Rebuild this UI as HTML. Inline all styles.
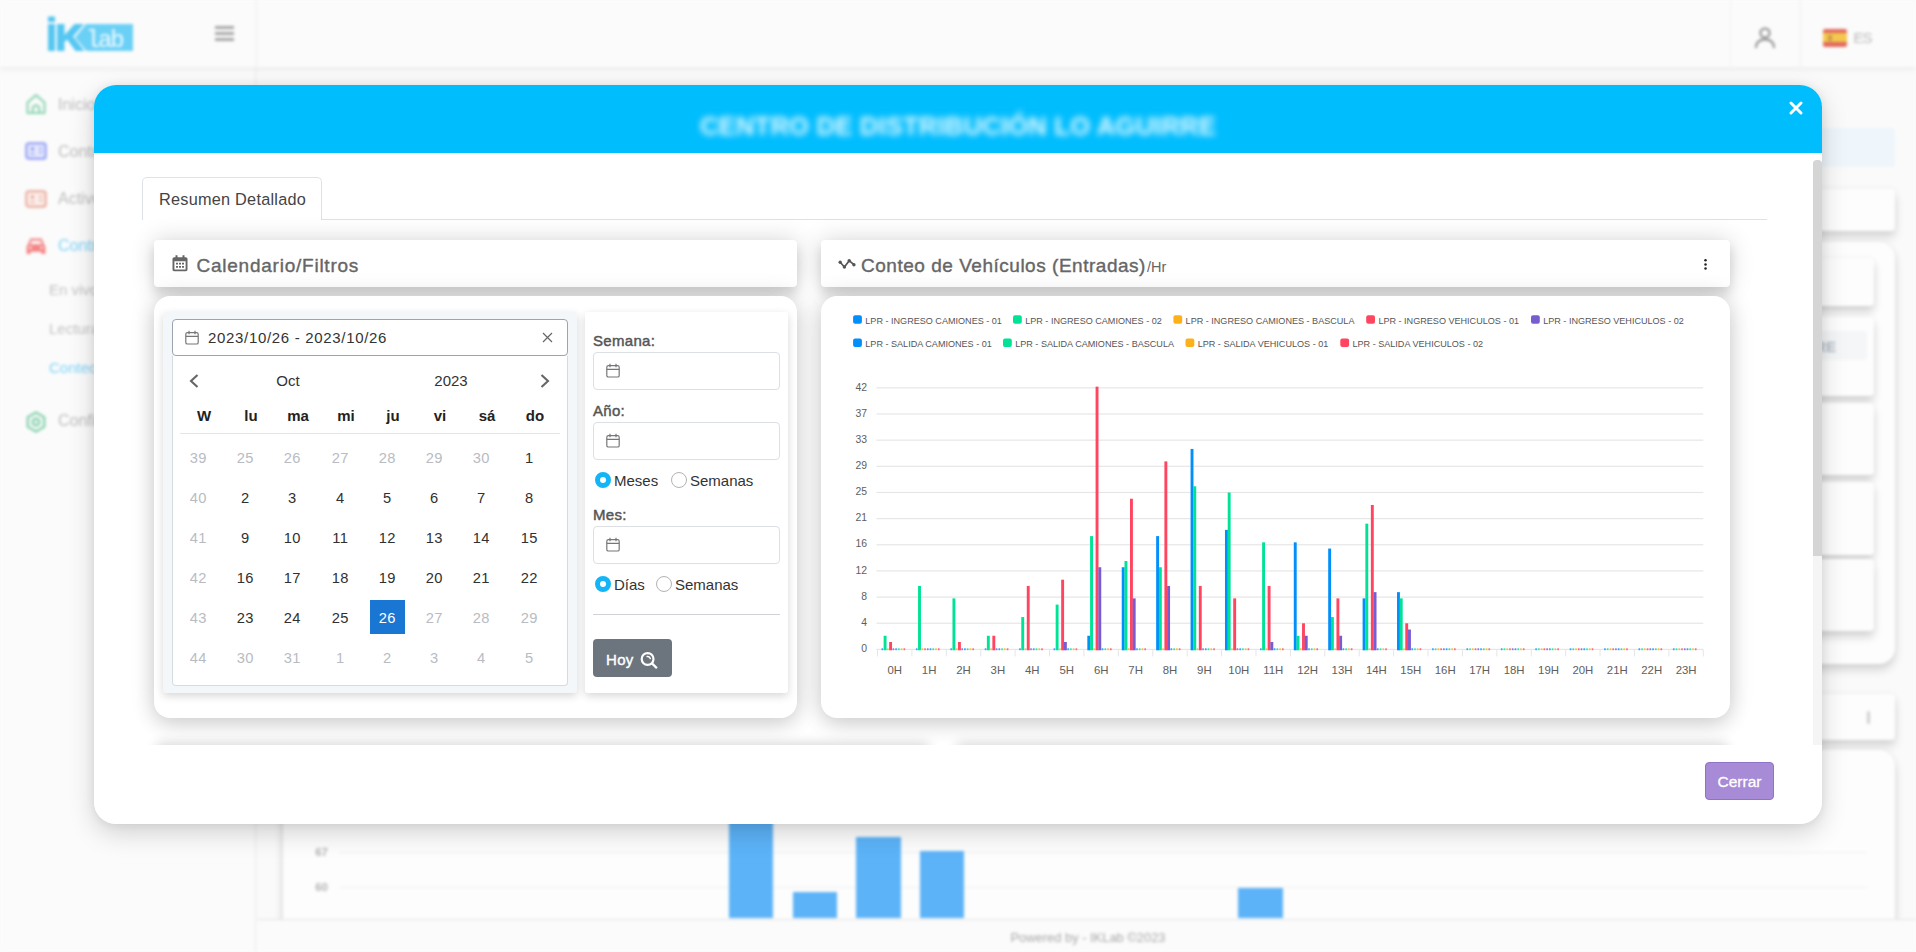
<!DOCTYPE html>
<html lang="es">
<head>
<meta charset="utf-8">
<title>IKLab - Conteo de Vehículos</title>
<style>
*{box-sizing:border-box;margin:0;padding:0}
html,body{width:1916px;height:952px;overflow:hidden}
body{font-family:"Liberation Sans","DejaVu Sans",sans-serif;background:#fafafa;color:#333;position:relative}
.abs{position:absolute}

/* ---------- blurred background app ---------- */
#bg{position:absolute;left:0;top:0;width:1916px;height:952px;filter:blur(1.5px);overflow:hidden;background:#fafafa}
#bg .side{position:absolute;left:0;top:0;width:256px;height:952px;background:#fbfbfb;border-right:1px solid #e9e9e9}
#bg .top{position:absolute;left:0;top:0;width:1916px;height:68px;background:#fbfbfb;border-bottom:1px solid #eee;box-shadow:0 2px 5px rgba(0,0,0,.05)}
#bg .mi{position:absolute;left:58px;font-size:16px;color:#bcbcbc;white-space:nowrap}
#bg .sub{position:absolute;left:49px;font-size:15px;color:#c2c2c2;white-space:nowrap}
#bg .card{position:absolute;background:#fdfdfd;border-radius:14px;box-shadow:0 6px 10px rgba(0,0,0,.15),0 0 6px rgba(0,0,0,.05)}
#bg .card.in{border-radius:4px;box-shadow:0 6px 8px rgba(0,0,0,.16),0 0 5px rgba(0,0,0,.05)}
#bg .bar{position:absolute;background:#5cb3f8}
#bg .gl{position:absolute;height:1px;background:#efefef}
#bg .foot{position:absolute;left:257px;top:919px;width:1659px;height:33px;background:#fbfbfb;border-top:1px solid #e2e2e2;text-align:center;font-size:12.9px;line-height:35px;color:#a8a8a8;padding-left:3px}

/* ---------- modal ---------- */
#modal{position:absolute;left:94px;top:85px;width:1728px;height:739px;background:#fff;border-radius:22px;box-shadow:0 9px 26px rgba(0,0,0,.17),0 0 10px rgba(0,0,0,.07);overflow:hidden}
#mhead{position:absolute;left:0;top:0;width:100%;height:68px;background:#00bdfe}
#mtitle{position:absolute;left:0;top:27px;width:1728px;text-align:center;font-size:25.6px;font-weight:bold;color:#eafaff;filter:blur(3.1px);letter-spacing:.2px;white-space:nowrap}
#mclose{position:absolute;left:1695px;top:16px;width:14px;height:14px}

#mc{position:absolute;left:-94px;top:-85px;width:1916px;height:952px}
#mc div,#mc span,#mc svg{position:absolute}
.tab{left:142px;top:177px;width:180px;height:43px;border:1px solid #dee2e6;border-bottom:none;border-radius:5px 5px 0 0;background:#fff}
.tabline{left:142px;top:219px;width:1625px;height:1px;background:#dee2e6}
.tabtxt{left:159px;top:189.5px;font-size:16.3px;color:#444;white-space:nowrap;letter-spacing:.24px}
.chead{top:240px;height:47px;background:#fff;border-radius:4px;box-shadow:0 7px 11px rgba(0,0,0,.12),0 0 24px rgba(0,0,0,.16)}
.cbody{top:296px;height:422px;background:#fff;border-radius:16px;box-shadow:0 8px 20px rgba(0,0,0,.10),0 0 24px rgba(0,0,0,.15)}
.ctitle{font-size:19px;font-weight:normal;-webkit-text-stroke:.38px #666;color:#666;white-space:nowrap;letter-spacing:.76px}
.calpanel{left:163px;top:312px;width:414px;height:381px;background:#f4f7fa;border-radius:3px;box-shadow:0 3px 8px rgba(0,0,0,.16)}
.dinput{left:172px;top:319px;width:396px;height:37px;border:1px solid #9aa5b1;border-radius:4px;background:#fff}
.dtxt{left:208px;top:328.7px;font-size:15px;color:#333;white-space:nowrap;letter-spacing:.68px}
.cal{left:172px;top:356px;width:396px;height:330px;border:1px solid #d5dbe2;border-top:none;border-radius:0 0 4px 4px;background:#fff}
.calhd{font-size:15px;color:#333;text-align:center;width:60px}
.wd{font-size:15px;font-weight:bold;color:#222;text-align:center;width:40px;top:407px}
.d{font-size:14.7px;letter-spacing:.4px;text-indent:.4px;color:#303030;text-align:center;width:40px}
.d.o{color:#b8bcc2}
.calsep{left:180px;top:433px;width:380px;height:1px;background:#e4e6e8}
.sel{left:370px;top:599.5px;width:35px;height:34.5px;background:#1976d2}
.fpanel{left:585px;top:312px;width:203px;height:381px;background:#fff;border-radius:3px;box-shadow:0 3px 8px rgba(0,0,0,.16)}
.flabel{left:593px;font-size:15px;font-weight:normal;-webkit-text-stroke:.45px #555;color:#555;white-space:nowrap;letter-spacing:.3px}
.finput{left:593px;width:187px;height:38px;border:1px solid #dcdfe3;border-radius:4px;background:#fff}
.rlab{font-size:15px;color:#333;white-space:nowrap;margin-top:.8px}
.ron{width:16px;height:16px;border-radius:50%;border:5px solid #12b5f5;background:#fff;margin-left:1px}
.roff{width:16px;height:16px;border-radius:50%;border:1px solid #b3b3b3;background:#fff}
.fsep{left:593px;top:614px;width:187px;height:1px;background:#d0d2d5}
.hoy{left:593px;top:639px;width:79px;height:38px;border-radius:4px;background:#6c757d}
.hoytxt{left:606px;top:651px;font-size:15px;color:#fff;font-weight:normal;-webkit-text-stroke:.4px #fff;white-space:nowrap;letter-spacing:.3px}
.sbtrack{left:1813px;top:161px;width:9px;height:585px;background:#f5f5f5}
.sbthumb{left:1813px;top:160px;width:9px;height:396px;background:#d5d5d5;border-radius:4px 4px 0 0}
.mfoot{left:94px;top:745px;width:1728px;height:79px;background:#fff}
.cerrar{left:1705px;top:762px;width:69px;height:38px;border-radius:4px;background:#a78bd6;border:1px solid #8f73c6}
.cerrartxt{left:1717.500px;top:773px;font-size:15.5px;color:#fff;-webkit-text-stroke:.3px #fff;white-space:nowrap}
</style>
</head>
<body>

<div id="bg">
  <!-- right side page content (behind modal) -->
  <div class="abs" style="left:283px;top:128px;width:1612px;height:39px;background:#eef5fb;border-radius:4px"></div>
  <div class="card" style="left:283px;top:189px;width:1612px;height:42px;border-radius:4px"></div>
  <div class="card" style="left:283px;top:242px;width:1612px;height:422px;border-radius:16px"></div>
  <div class="card in" style="left:1500px;top:258px;width:374px;height:48px"></div>
  <div class="card in" style="left:1500px;top:317px;width:374px;height:79px"></div>
  <div class="abs" style="left:1500px;top:331px;width:367px;height:29px;background:#f4f6f8;border-radius:3px"></div>
  <div class="abs" style="left:1700px;top:338px;font-size:15px;font-weight:bold;color:#b4bcc7;white-space:nowrap;width:136px;text-align:right">LO AGUIRRE</div>
  <div class="card in" style="left:1500px;top:403px;width:374px;height:72px"></div>
  <div class="card in" style="left:1500px;top:482px;width:374px;height:73px"></div>
  <div class="card in" style="left:1500px;top:559px;width:374px;height:72px"></div>
  <div class="card" style="left:283px;top:694px;width:1612px;height:46px;border-radius:4px"></div>
  <div class="abs" style="left:1867px;top:711px;width:3px;height:13px;background:#cfcfcf;border-radius:2px"></div>
  <div class="card" style="left:283px;top:750px;width:1612px;height:200px;border-radius:16px 16px 0 0"></div>
  <!-- bottom chart -->
  <div class="gl" style="left:339px;top:852px;width:1528px"></div>
  <div class="gl" style="left:339px;top:887px;width:1528px"></div>
  <div class="abs" style="left:312px;top:846px;font-size:11.500px;font-weight:bold;color:#b3b3b3;width:16px;text-align:right">67</div>
  <div class="abs" style="left:312px;top:881px;font-size:11.500px;font-weight:bold;color:#b3b3b3;width:16px;text-align:right">60</div>
  <div class="bar" style="left:729px;top:800px;width:44px;height:118px"></div>
  <div class="bar" style="left:793px;top:892px;width:44px;height:26px"></div>
  <div class="bar" style="left:856px;top:837px;width:45px;height:81px"></div>
  <div class="bar" style="left:920px;top:851px;width:44px;height:67px"></div>
  <div class="bar" style="left:1238px;top:888px;width:45px;height:30px"></div>
  <div class="foot">Powered by - IKLab ©2023</div>
  <!-- sidebar & topbar -->
  <div class="side"></div>
  <div class="top"></div>
  <svg class="abs" style="left:46px;top:15px" width="88" height="38" viewBox="0 0 88 38">
    <path d="M2 9h7v27H2zM2 1.5h7v5.5H2z" fill="#55c7f2"/>
    <path d="M11 9h7.5v11L28.5 9H38L27 21.5 38.5 36H29.5L21 24.5 18.500 27V36H11z" fill="#55c7f2"/>
    <path d="M40 9H87V36H40.500L29 22.500z" fill="#6bd0f6"/>
    <text x="40" y="31.500" font-family="'Liberation Mono',monospace" font-size="24" fill="#f4fbff" letter-spacing="-2.300">lab</text>
  </svg>
  <div class="abs" style="left:215px;top:26px;width:19px;height:3px;background:#a6a6a6"></div>
  <div class="abs" style="left:215px;top:32px;width:19px;height:3px;background:#a6a6a6"></div>
  <div class="abs" style="left:215px;top:38px;width:19px;height:3px;background:#a6a6a6"></div>
  <div class="abs" style="left:1800px;top:0;width:1px;height:68px;background:#ececec"></div>
  <div class="abs" style="left:256px;top:0;width:1px;height:68px;background:#ececec"></div>
  <div class="abs" style="left:1730px;top:0;width:1px;height:68px;background:#f0f0f0"></div>
  <svg class="abs" style="left:1754px;top:26px" width="22" height="23" viewBox="0 0 22 23" fill="none" stroke="#8c8c8c" stroke-width="2"><circle cx="11" cy="7" r="4.6"/><path d="M2 22c0-6 4-8.500 9-8.500s9 2.500 9 8.500"/></svg>
  <div class="abs" style="left:1823px;top:28.500px;width:24px;height:18px;background:#e2695f;border-radius:2px"></div>
  <div class="abs" style="left:1823px;top:33px;width:24px;height:9px;background:#f4c84f"></div>
  <div class="abs" style="left:1828px;top:34.500px;width:4px;height:6px;background:#c79a4a;border-radius:1px"></div>
  <div class="abs" style="left:1853.500px;top:28.500px;font-size:15px;letter-spacing:-1px;color:#b9b9b9">ES</div>

  <svg class="abs" style="left:25px;top:93px" width="22" height="22" viewBox="0 0 22 22" fill="none" stroke="#8fd5b4" stroke-width="2.2" stroke-linejoin="round"><path d="M2.500 9.500L11 2.200l8.500 7.300V20H2.500z"/><path d="M7.800 20v-4.500a3.200 3.200 0 0 1 6.400 0V20"/></svg>
  <svg class="abs" style="left:25px;top:142px" width="22" height="18" viewBox="0 0 22 18" fill="none" stroke="#929df4" stroke-width="2.2"><rect x="1.400" y="1.400" width="19.200" height="15.200" rx="2.400" fill="#e8ebfd"/><circle cx="7.500" cy="7" r="1.900" fill="#929df4" stroke="none"/><path d="M4.500 12.500c.500-2 5.500-2 6 0z" fill="#929df4" stroke="none"/><path d="M13.500 6.500h4M13.500 10.500h4" stroke-width="1.600"/></svg>
  <svg class="abs" style="left:25px;top:190px" width="22" height="18" viewBox="0 0 22 18" fill="none" stroke="#e9ab9c" stroke-width="2.2"><rect x="1.400" y="1.400" width="19.200" height="15.200" rx="2.400" fill="#fbf1ee"/><circle cx="7.500" cy="7" r="1.900" fill="#e9ab9c" stroke="none"/><path d="M4.500 12.500c.500-2 5.500-2 6 0z" fill="#e9ab9c" stroke="none"/><path d="M13.500 6.500h4M13.500 10.500h4" stroke-width="1.600"/></svg>
  <svg class="abs" style="left:26px;top:236px" width="20" height="20" viewBox="0 0 24 23"><path fill="#f58383" d="M5.200 2.500h13.600l3 7.500c.9.500 1.400 1.400 1.400 2.500v8.500h-4.700v-2.500H5.500V21H.8v-8.500c0-1.100.5-2 1.400-2.500zM6.800 5.200l-1.700 4.300h13.800l-1.700-4.300zM5.300 12a1.600 1.600 0 1 0 0 3.200 1.600 1.600 0 0 0 0-3.200zm13.400 0a1.600 1.600 0 1 0 0 3.200 1.600 1.600 0 0 0 0-3.200z"/></svg>
  <svg class="abs" style="left:25px;top:411px" width="22" height="22" viewBox="0 0 22 22" fill="none" stroke="#86d1ad" stroke-width="2.400" stroke-linejoin="round"><path d="M11 1.500l8.200 4.700v9.600L11 20.500l-8.200-4.700V6.200z"/><circle cx="11" cy="11" r="3.300"/></svg>
  <div class="mi" style="top:96px">Inicio</div>
  <div class="mi" style="top:143px">Control de Acceso</div>
  <div class="mi" style="top:190px">Activos</div>
  <div class="mi" style="top:237px;color:#7fd3f8">Control Vehicular</div>
  <div class="sub" style="top:281px">En vivo</div>
  <div class="sub" style="top:320px">Lecturas</div>
  <div class="sub" style="top:359px;color:#7fd3f8">Conteo</div>
  <div class="mi" style="top:412px">Configuración</div>
</div>


<div id="modal">
  <div id="mhead">
    <div id="mtitle">CENTRO DE DISTRIBUCIÓN LO AGUIRRE</div>
    <svg id="mclose" viewBox="0 0 14 14"><path d="M2 2 L12 12 M12 2 L2 12" stroke="#fff" stroke-width="2.9" stroke-linecap="round"/></svg>
  </div>

<div id="mc">
  <div class="tab"></div><div class="tabline"></div><div style="left:143px;top:219px;width:178px;height:2px;background:#fff"></div>
  <span class="tabtxt">Resumen Detallado</span>

  <div class="chead" style="left:154px;width:643px"></div>
  <div class="cbody" style="left:154px;width:643px"></div>
  <div class="chead" style="left:821px;width:909px"></div>
  <div class="cbody" style="left:821px;width:909px"></div>

  <svg style="left:172px;top:255px" width="16" height="17" viewBox="0 0 16 17"><path fill="#666" d="M3.5 0.3h2v2h5v-2h2v2h1.3c1 0 1.7.7 1.7 1.7v10.6c0 1-.7 1.7-1.7 1.7H2.2c-1 0-1.7-.7-1.7-1.7V4c0-1 .7-1.7 1.7-1.7h1.3zM2.4 6.2v8.2h11.2V6.2zM4 7.8h2v1.8H4zm3 0h2v1.8H7zm3 0h2v1.8h-2zM4 11h2v1.8H4zm3 0h2v1.8H7zm3 0h2v1.8h-2z"/></svg>
  <span class="ctitle" style="left:196.500px;top:254.600px">Calendario/Filtros</span>

  <svg style="left:838px;top:258px" width="18" height="12" viewBox="0 0 18 12" fill="none" stroke="#555" stroke-width="1.7" stroke-linecap="round" stroke-linejoin="round"><path d="M2.2 4.3 L6.4 9 L11.2 2.7 L15.9 6.7"/><g fill="#555" stroke="none"><circle cx="2.200" cy="4.300" r="1.700"/><circle cx="6.400" cy="9" r="1.700"/><circle cx="11.200" cy="2.700" r="1.700"/><circle cx="15.900" cy="6.700" r="1.700"/></g></svg>
  <span class="ctitle" style="left:861px;top:254.600px;letter-spacing:.52px">Conteo de Vehículos (Entradas)</span>
  <span style="left:1147px;top:259px;font-size:14.5px;color:#666;white-space:nowrap">/Hr</span>
  <svg style="left:1703px;top:257px" width="5" height="15" viewBox="0 0 5 15"><circle cx="2.5" cy="3.2" r="1.25" fill="#222"/><circle cx="2.5" cy="7.4" r="1.25" fill="#222"/><circle cx="2.5" cy="11.6" r="1.25" fill="#222"/></svg>

  <div class="calpanel"></div>
  <div class="cal"></div>
  <div class="dinput"></div>
  <svg style="left:185px;top:330px" width="14" height="15" viewBox="0 0 14 15" fill="none" stroke="#777" stroke-width="1.2"><rect x="0.8" y="2.6" width="12.4" height="11.4" rx="1.6"/><path d="M0.8 6.4H13.2M4 0.8V4.2M10 0.8V4.2"/></svg>
  <span class="dtxt">2023/10/26 - 2023/10/26</span>
  <svg style="left:542px;top:332px" width="11" height="11" viewBox="0 0 11 11"><path d="M1 1L10 10M10 1L1 10" stroke="#666" stroke-width="1.2"/></svg>
  <svg style="left:189px;top:374px" width="10" height="14" viewBox="0 0 10 14" fill="none" stroke="#666" stroke-width="2.1"><path d="M8.5 1L2 7L8.5 13"/></svg>
  <svg style="left:540px;top:374px" width="10" height="14" viewBox="0 0 10 14" fill="none" stroke="#666" stroke-width="2.1"><path d="M1.5 1L8 7L1.5 13"/></svg>
  <span class="calhd" style="left:258px;top:372px">Oct</span>
  <span class="calhd" style="left:421px;top:372px">2023</span>
  <span class="wd" style="left:184px">W</span><span class="wd" style="left:231px">lu</span><span class="wd" style="left:278px">ma</span><span class="wd" style="left:326px">mi</span><span class="wd" style="left:373px">ju</span><span class="wd" style="left:420px">vi</span><span class="wd" style="left:467px">sá</span><span class="wd" style="left:515px">do</span>
  <div class="calsep"></div>
  <div class="sel"></div>
  <span class="d o" style="left:178px;top:449.9px">39</span><span class="d o" style="left:225px;top:449.9px">25</span><span class="d o" style="left:272px;top:449.9px">26</span><span class="d o" style="left:320px;top:449.9px">27</span><span class="d o" style="left:367px;top:449.9px">28</span><span class="d o" style="left:414px;top:449.9px">29</span><span class="d o" style="left:461px;top:449.9px">30</span><span class="d" style="left:509px;top:449.9px">1</span>
<span class="d o" style="left:178px;top:489.9px">40</span><span class="d" style="left:225px;top:489.9px">2</span><span class="d" style="left:272px;top:489.9px">3</span><span class="d" style="left:320px;top:489.9px">4</span><span class="d" style="left:367px;top:489.9px">5</span><span class="d" style="left:414px;top:489.9px">6</span><span class="d" style="left:461px;top:489.9px">7</span><span class="d" style="left:509px;top:489.9px">8</span>
<span class="d o" style="left:178px;top:529.9px">41</span><span class="d" style="left:225px;top:529.9px">9</span><span class="d" style="left:272px;top:529.9px">10</span><span class="d" style="left:320px;top:529.9px">11</span><span class="d" style="left:367px;top:529.9px">12</span><span class="d" style="left:414px;top:529.9px">13</span><span class="d" style="left:461px;top:529.9px">14</span><span class="d" style="left:509px;top:529.9px">15</span>
<span class="d o" style="left:178px;top:569.9px">42</span><span class="d" style="left:225px;top:569.9px">16</span><span class="d" style="left:272px;top:569.9px">17</span><span class="d" style="left:320px;top:569.9px">18</span><span class="d" style="left:367px;top:569.9px">19</span><span class="d" style="left:414px;top:569.9px">20</span><span class="d" style="left:461px;top:569.9px">21</span><span class="d" style="left:509px;top:569.9px">22</span>
<span class="d o" style="left:178px;top:609.9px">43</span><span class="d" style="left:225px;top:609.9px">23</span><span class="d" style="left:272px;top:609.9px">24</span><span class="d" style="left:320px;top:609.9px">25</span><span class="d" style="left:367px;top:609.9px;color:#fff">26</span><span class="d o" style="left:414px;top:609.9px">27</span><span class="d o" style="left:461px;top:609.9px">28</span><span class="d o" style="left:509px;top:609.9px">29</span>
<span class="d o" style="left:178px;top:649.9px">44</span><span class="d o" style="left:225px;top:649.9px">30</span><span class="d o" style="left:272px;top:649.9px">31</span><span class="d o" style="left:320px;top:649.9px">1</span><span class="d o" style="left:367px;top:649.9px">2</span><span class="d o" style="left:414px;top:649.9px">3</span><span class="d o" style="left:461px;top:649.9px">4</span><span class="d o" style="left:509px;top:649.9px">5</span>

  <div class="fpanel"></div>
  <span class="flabel" style="top:332px">Semana:</span>
  <div class="finput" style="top:352px"></div><svg style="left:606px;top:363.2px" width="14" height="15" viewBox="0 0 14 15" fill="none" stroke="#777" stroke-width="1.2"><rect x="0.8" y="2.6" width="12.4" height="11.4" rx="1.6"/><path d="M0.8 6.4H13.2M4 0.8V4.2M10 0.8V4.2"/></svg>
  <span class="flabel" style="top:402px">Año:</span>
  <div class="finput" style="top:422px"></div><svg style="left:606px;top:433.2px" width="14" height="15" viewBox="0 0 14 15" fill="none" stroke="#777" stroke-width="1.2"><rect x="0.8" y="2.6" width="12.4" height="11.4" rx="1.6"/><path d="M0.8 6.4H13.2M4 0.8V4.2M10 0.8V4.2"/></svg>
  <div class="ron" style="left:594px;top:472px"></div><span class="rlab" style="left:614px;top:471px">Meses</span>
  <div class="roff" style="left:671px;top:472px"></div><span class="rlab" style="left:690px;top:471px">Semanas</span>
  <span class="flabel" style="top:506px">Mes:</span>
  <div class="finput" style="top:526px"></div><svg style="left:606px;top:537.2px" width="14" height="15" viewBox="0 0 14 15" fill="none" stroke="#777" stroke-width="1.2"><rect x="0.8" y="2.6" width="12.4" height="11.4" rx="1.6"/><path d="M0.8 6.4H13.2M4 0.8V4.2M10 0.8V4.2"/></svg>
  <div class="ron" style="left:594px;top:576px"></div><span class="rlab" style="left:614px;top:575px">Días</span>
  <div class="roff" style="left:656px;top:576px"></div><span class="rlab" style="left:675px;top:575px">Semanas</span>
  <div class="fsep"></div>
  <div class="hoy"></div><span class="hoytxt">Hoy</span>
  <svg style="left:639px;top:650px" width="19" height="19" viewBox="0 0 19 19" fill="none" stroke="#fff" stroke-width="2.2" stroke-linecap="round"><circle cx="8.6" cy="9" r="5.9"/><path d="M13 13.4L17.3 17.6"/><path d="M8.2 6.6 Q10.6 6.2 11.3 8.6" stroke-width="1.5"/></svg>

  <!--CHART-->
<svg style="left:0;top:0" width="1916" height="952" viewBox="0 0 1916 952" font-family="'Liberation Sans',Arial,sans-serif">
<rect x="876.5" y="387.25" width="826.8" height="1.2" fill="#e6e6e6"/>
<text x="867" y="390.5" font-size="10.4" fill="#5e5e5e" text-anchor="end">42</text>
<rect x="876.5" y="413.40" width="826.8" height="1.2" fill="#e6e6e6"/>
<text x="867" y="416.6" font-size="10.4" fill="#5e5e5e" text-anchor="end">37</text>
<rect x="876.5" y="439.56" width="826.8" height="1.2" fill="#e6e6e6"/>
<text x="867" y="442.8" font-size="10.4" fill="#5e5e5e" text-anchor="end">33</text>
<rect x="876.5" y="465.71" width="826.8" height="1.2" fill="#e6e6e6"/>
<text x="867" y="468.9" font-size="10.4" fill="#5e5e5e" text-anchor="end">29</text>
<rect x="876.5" y="491.87" width="826.8" height="1.2" fill="#e6e6e6"/>
<text x="867" y="495.1" font-size="10.4" fill="#5e5e5e" text-anchor="end">25</text>
<rect x="876.5" y="518.02" width="826.8" height="1.2" fill="#e6e6e6"/>
<text x="867" y="521.2" font-size="10.4" fill="#5e5e5e" text-anchor="end">21</text>
<rect x="876.5" y="544.18" width="826.8" height="1.2" fill="#e6e6e6"/>
<text x="867" y="547.4" font-size="10.4" fill="#5e5e5e" text-anchor="end">16</text>
<rect x="876.5" y="570.33" width="826.8" height="1.2" fill="#e6e6e6"/>
<text x="867" y="573.5" font-size="10.4" fill="#5e5e5e" text-anchor="end">12</text>
<rect x="876.5" y="596.49" width="826.8" height="1.2" fill="#e6e6e6"/>
<text x="867" y="599.7" font-size="10.4" fill="#5e5e5e" text-anchor="end">8</text>
<rect x="876.5" y="622.64" width="826.8" height="1.2" fill="#e6e6e6"/>
<text x="867" y="625.8" font-size="10.4" fill="#5e5e5e" text-anchor="end">4</text>
<rect x="876.5" y="648.80" width="826.8" height="1.2" fill="#e6e6e6"/>
<text x="867" y="652.0" font-size="10.4" fill="#5e5e5e" text-anchor="end">0</text>
<rect x="877.00" y="649.4" width="1" height="7" fill="#e6e6e6"/>
<rect x="911.41" y="649.4" width="1" height="7" fill="#e6e6e6"/>
<rect x="945.82" y="649.4" width="1" height="7" fill="#e6e6e6"/>
<rect x="980.23" y="649.4" width="1" height="7" fill="#e6e6e6"/>
<rect x="1014.63" y="649.4" width="1" height="7" fill="#e6e6e6"/>
<rect x="1049.04" y="649.4" width="1" height="7" fill="#e6e6e6"/>
<rect x="1083.45" y="649.4" width="1" height="7" fill="#e6e6e6"/>
<rect x="1117.86" y="649.4" width="1" height="7" fill="#e6e6e6"/>
<rect x="1152.27" y="649.4" width="1" height="7" fill="#e6e6e6"/>
<rect x="1186.67" y="649.4" width="1" height="7" fill="#e6e6e6"/>
<rect x="1221.08" y="649.4" width="1" height="7" fill="#e6e6e6"/>
<rect x="1255.49" y="649.4" width="1" height="7" fill="#e6e6e6"/>
<rect x="1289.90" y="649.4" width="1" height="7" fill="#e6e6e6"/>
<rect x="1324.31" y="649.4" width="1" height="7" fill="#e6e6e6"/>
<rect x="1358.72" y="649.4" width="1" height="7" fill="#e6e6e6"/>
<rect x="1393.12" y="649.4" width="1" height="7" fill="#e6e6e6"/>
<rect x="1427.53" y="649.4" width="1" height="7" fill="#e6e6e6"/>
<rect x="1461.94" y="649.4" width="1" height="7" fill="#e6e6e6"/>
<rect x="1496.35" y="649.4" width="1" height="7" fill="#e6e6e6"/>
<rect x="1530.76" y="649.4" width="1" height="7" fill="#e6e6e6"/>
<rect x="1565.17" y="649.4" width="1" height="7" fill="#e6e6e6"/>
<rect x="1599.57" y="649.4" width="1" height="7" fill="#e6e6e6"/>
<rect x="1633.98" y="649.4" width="1" height="7" fill="#e6e6e6"/>
<rect x="1668.39" y="649.4" width="1" height="7" fill="#e6e6e6"/>
<rect x="1702.80" y="649.4" width="1" height="7" fill="#e6e6e6"/>
<text x="894.7" y="674" font-size="11.4" fill="#5e5e5e" text-anchor="middle">0H</text>
<text x="929.1" y="674" font-size="11.4" fill="#5e5e5e" text-anchor="middle">1H</text>
<text x="963.5" y="674" font-size="11.4" fill="#5e5e5e" text-anchor="middle">2H</text>
<text x="997.9" y="674" font-size="11.4" fill="#5e5e5e" text-anchor="middle">3H</text>
<text x="1032.3" y="674" font-size="11.4" fill="#5e5e5e" text-anchor="middle">4H</text>
<text x="1066.7" y="674" font-size="11.4" fill="#5e5e5e" text-anchor="middle">5H</text>
<text x="1101.2" y="674" font-size="11.4" fill="#5e5e5e" text-anchor="middle">6H</text>
<text x="1135.6" y="674" font-size="11.4" fill="#5e5e5e" text-anchor="middle">7H</text>
<text x="1170.0" y="674" font-size="11.4" fill="#5e5e5e" text-anchor="middle">8H</text>
<text x="1204.4" y="674" font-size="11.4" fill="#5e5e5e" text-anchor="middle">9H</text>
<text x="1238.8" y="674" font-size="11.4" fill="#5e5e5e" text-anchor="middle">10H</text>
<text x="1273.2" y="674" font-size="11.4" fill="#5e5e5e" text-anchor="middle">11H</text>
<text x="1307.6" y="674" font-size="11.4" fill="#5e5e5e" text-anchor="middle">12H</text>
<text x="1342.0" y="674" font-size="11.4" fill="#5e5e5e" text-anchor="middle">13H</text>
<text x="1376.4" y="674" font-size="11.4" fill="#5e5e5e" text-anchor="middle">14H</text>
<text x="1410.8" y="674" font-size="11.4" fill="#5e5e5e" text-anchor="middle">15H</text>
<text x="1445.2" y="674" font-size="11.4" fill="#5e5e5e" text-anchor="middle">16H</text>
<text x="1479.6" y="674" font-size="11.4" fill="#5e5e5e" text-anchor="middle">17H</text>
<text x="1514.1" y="674" font-size="11.4" fill="#5e5e5e" text-anchor="middle">18H</text>
<text x="1548.5" y="674" font-size="11.4" fill="#5e5e5e" text-anchor="middle">19H</text>
<text x="1582.9" y="674" font-size="11.4" fill="#5e5e5e" text-anchor="middle">20H</text>
<text x="1617.3" y="674" font-size="11.4" fill="#5e5e5e" text-anchor="middle">21H</text>
<text x="1651.7" y="674" font-size="11.4" fill="#5e5e5e" text-anchor="middle">22H</text>
<text x="1686.1" y="674" font-size="11.4" fill="#5e5e5e" text-anchor="middle">23H</text>
<rect x="881.54" y="648.30" width="1.6" height="1.9" fill="#008ffb" opacity=".8"/>
<rect x="883.64" y="635.75" width="2.90" height="14.55" fill="#00e396"/>
<rect x="887.04" y="648.30" width="1.6" height="1.9" fill="#feb019" opacity=".8"/>
<rect x="889.14" y="641.97" width="2.90" height="8.33" fill="#ff4560"/>
<rect x="892.54" y="648.30" width="1.6" height="1.9" fill="#775dd0" opacity=".8"/>
<rect x="895.29" y="648.30" width="1.6" height="1.9" fill="#008ffb" opacity=".8"/>
<rect x="898.04" y="648.30" width="1.6" height="1.9" fill="#00e396" opacity=".8"/>
<rect x="900.79" y="648.30" width="1.6" height="1.9" fill="#feb019" opacity=".8"/>
<rect x="903.54" y="648.30" width="1.6" height="1.9" fill="#ff4560" opacity=".8"/>
<rect x="915.95" y="648.30" width="1.6" height="1.9" fill="#008ffb" opacity=".8"/>
<rect x="918.05" y="585.93" width="2.90" height="64.37" fill="#00e396"/>
<rect x="921.45" y="648.30" width="1.6" height="1.9" fill="#feb019" opacity=".8"/>
<rect x="924.20" y="648.30" width="1.6" height="1.9" fill="#ff4560" opacity=".8"/>
<rect x="926.95" y="648.30" width="1.6" height="1.9" fill="#775dd0" opacity=".8"/>
<rect x="929.70" y="648.30" width="1.6" height="1.9" fill="#008ffb" opacity=".8"/>
<rect x="932.45" y="648.30" width="1.6" height="1.9" fill="#00e396" opacity=".8"/>
<rect x="935.20" y="648.30" width="1.6" height="1.9" fill="#feb019" opacity=".8"/>
<rect x="937.95" y="648.30" width="1.6" height="1.9" fill="#ff4560" opacity=".8"/>
<rect x="950.36" y="648.30" width="1.6" height="1.9" fill="#008ffb" opacity=".8"/>
<rect x="952.46" y="598.38" width="2.90" height="51.92" fill="#00e396"/>
<rect x="955.86" y="648.30" width="1.6" height="1.9" fill="#feb019" opacity=".8"/>
<rect x="957.96" y="641.97" width="2.90" height="8.33" fill="#ff4560"/>
<rect x="961.36" y="648.30" width="1.6" height="1.9" fill="#775dd0" opacity=".8"/>
<rect x="964.11" y="648.30" width="1.6" height="1.9" fill="#008ffb" opacity=".8"/>
<rect x="966.86" y="648.30" width="1.6" height="1.9" fill="#00e396" opacity=".8"/>
<rect x="969.61" y="648.30" width="1.6" height="1.9" fill="#feb019" opacity=".8"/>
<rect x="972.36" y="648.30" width="1.6" height="1.9" fill="#ff4560" opacity=".8"/>
<rect x="984.77" y="648.30" width="1.6" height="1.9" fill="#008ffb" opacity=".8"/>
<rect x="986.87" y="635.75" width="2.90" height="14.55" fill="#00e396"/>
<rect x="990.27" y="648.30" width="1.6" height="1.9" fill="#feb019" opacity=".8"/>
<rect x="992.37" y="635.75" width="2.90" height="14.55" fill="#ff4560"/>
<rect x="995.77" y="648.30" width="1.6" height="1.9" fill="#775dd0" opacity=".8"/>
<rect x="998.52" y="648.30" width="1.6" height="1.9" fill="#008ffb" opacity=".8"/>
<rect x="1001.27" y="648.30" width="1.6" height="1.9" fill="#00e396" opacity=".8"/>
<rect x="1004.02" y="648.30" width="1.6" height="1.9" fill="#feb019" opacity=".8"/>
<rect x="1006.77" y="648.30" width="1.6" height="1.9" fill="#ff4560" opacity=".8"/>
<rect x="1019.17" y="648.30" width="1.6" height="1.9" fill="#008ffb" opacity=".8"/>
<rect x="1021.27" y="617.06" width="2.90" height="33.24" fill="#00e396"/>
<rect x="1024.67" y="648.30" width="1.6" height="1.9" fill="#feb019" opacity=".8"/>
<rect x="1026.77" y="585.93" width="2.90" height="64.37" fill="#ff4560"/>
<rect x="1030.17" y="648.30" width="1.6" height="1.9" fill="#775dd0" opacity=".8"/>
<rect x="1032.92" y="648.30" width="1.6" height="1.9" fill="#008ffb" opacity=".8"/>
<rect x="1035.67" y="648.30" width="1.6" height="1.9" fill="#00e396" opacity=".8"/>
<rect x="1038.42" y="648.30" width="1.6" height="1.9" fill="#feb019" opacity=".8"/>
<rect x="1041.17" y="648.30" width="1.6" height="1.9" fill="#ff4560" opacity=".8"/>
<rect x="1053.58" y="648.30" width="1.6" height="1.9" fill="#008ffb" opacity=".8"/>
<rect x="1055.68" y="604.61" width="2.90" height="45.69" fill="#00e396"/>
<rect x="1059.08" y="648.30" width="1.6" height="1.9" fill="#feb019" opacity=".8"/>
<rect x="1061.18" y="579.70" width="2.90" height="70.60" fill="#ff4560"/>
<rect x="1063.93" y="641.97" width="2.90" height="8.33" fill="#775dd0"/>
<rect x="1067.33" y="648.30" width="1.6" height="1.9" fill="#008ffb" opacity=".8"/>
<rect x="1070.08" y="648.30" width="1.6" height="1.9" fill="#00e396" opacity=".8"/>
<rect x="1072.83" y="648.30" width="1.6" height="1.9" fill="#feb019" opacity=".8"/>
<rect x="1075.58" y="648.30" width="1.6" height="1.9" fill="#ff4560" opacity=".8"/>
<rect x="1087.34" y="635.75" width="2.90" height="14.55" fill="#008ffb"/>
<rect x="1090.09" y="536.11" width="2.90" height="114.19" fill="#00e396"/>
<rect x="1093.49" y="648.30" width="1.6" height="1.9" fill="#feb019" opacity=".8"/>
<rect x="1095.59" y="386.65" width="2.90" height="263.65" fill="#ff4560"/>
<rect x="1098.34" y="567.24" width="2.90" height="83.06" fill="#775dd0"/>
<rect x="1101.74" y="648.30" width="1.6" height="1.9" fill="#008ffb" opacity=".8"/>
<rect x="1104.49" y="648.30" width="1.6" height="1.9" fill="#00e396" opacity=".8"/>
<rect x="1107.24" y="648.30" width="1.6" height="1.9" fill="#feb019" opacity=".8"/>
<rect x="1109.99" y="648.30" width="1.6" height="1.9" fill="#ff4560" opacity=".8"/>
<rect x="1121.75" y="567.24" width="2.90" height="83.06" fill="#008ffb"/>
<rect x="1124.50" y="561.02" width="2.90" height="89.28" fill="#00e396"/>
<rect x="1127.90" y="648.30" width="1.6" height="1.9" fill="#feb019" opacity=".8"/>
<rect x="1130.00" y="498.74" width="2.90" height="151.56" fill="#ff4560"/>
<rect x="1132.75" y="598.38" width="2.90" height="51.92" fill="#775dd0"/>
<rect x="1136.15" y="648.30" width="1.6" height="1.9" fill="#008ffb" opacity=".8"/>
<rect x="1138.90" y="648.30" width="1.6" height="1.9" fill="#00e396" opacity=".8"/>
<rect x="1141.65" y="648.30" width="1.6" height="1.9" fill="#feb019" opacity=".8"/>
<rect x="1144.40" y="648.30" width="1.6" height="1.9" fill="#ff4560" opacity=".8"/>
<rect x="1156.16" y="536.11" width="2.90" height="114.19" fill="#008ffb"/>
<rect x="1158.91" y="567.24" width="2.90" height="83.06" fill="#00e396"/>
<rect x="1162.31" y="648.30" width="1.6" height="1.9" fill="#feb019" opacity=".8"/>
<rect x="1164.41" y="461.38" width="2.90" height="188.92" fill="#ff4560"/>
<rect x="1167.16" y="585.93" width="2.90" height="64.37" fill="#775dd0"/>
<rect x="1170.56" y="648.30" width="1.6" height="1.9" fill="#008ffb" opacity=".8"/>
<rect x="1173.31" y="648.30" width="1.6" height="1.9" fill="#00e396" opacity=".8"/>
<rect x="1176.06" y="648.30" width="1.6" height="1.9" fill="#feb019" opacity=".8"/>
<rect x="1178.81" y="648.30" width="1.6" height="1.9" fill="#ff4560" opacity=".8"/>
<rect x="1190.57" y="448.92" width="2.90" height="201.38" fill="#008ffb"/>
<rect x="1193.32" y="486.29" width="2.90" height="164.01" fill="#00e396"/>
<rect x="1196.72" y="648.30" width="1.6" height="1.9" fill="#feb019" opacity=".8"/>
<rect x="1198.82" y="585.93" width="2.90" height="64.37" fill="#ff4560"/>
<rect x="1202.22" y="648.30" width="1.6" height="1.9" fill="#775dd0" opacity=".8"/>
<rect x="1204.97" y="648.30" width="1.6" height="1.9" fill="#008ffb" opacity=".8"/>
<rect x="1207.72" y="648.30" width="1.6" height="1.9" fill="#00e396" opacity=".8"/>
<rect x="1210.47" y="648.30" width="1.6" height="1.9" fill="#feb019" opacity=".8"/>
<rect x="1213.22" y="648.30" width="1.6" height="1.9" fill="#ff4560" opacity=".8"/>
<rect x="1224.97" y="529.88" width="2.90" height="120.42" fill="#008ffb"/>
<rect x="1227.72" y="492.52" width="2.90" height="157.78" fill="#00e396"/>
<rect x="1231.12" y="648.30" width="1.6" height="1.9" fill="#feb019" opacity=".8"/>
<rect x="1233.22" y="598.38" width="2.90" height="51.92" fill="#ff4560"/>
<rect x="1236.62" y="648.30" width="1.6" height="1.9" fill="#775dd0" opacity=".8"/>
<rect x="1239.37" y="648.30" width="1.6" height="1.9" fill="#008ffb" opacity=".8"/>
<rect x="1242.12" y="648.30" width="1.6" height="1.9" fill="#00e396" opacity=".8"/>
<rect x="1244.87" y="648.30" width="1.6" height="1.9" fill="#feb019" opacity=".8"/>
<rect x="1247.62" y="648.30" width="1.6" height="1.9" fill="#ff4560" opacity=".8"/>
<rect x="1260.03" y="648.30" width="1.6" height="1.9" fill="#008ffb" opacity=".8"/>
<rect x="1262.13" y="542.33" width="2.90" height="107.97" fill="#00e396"/>
<rect x="1265.53" y="648.30" width="1.6" height="1.9" fill="#feb019" opacity=".8"/>
<rect x="1267.63" y="585.93" width="2.90" height="64.37" fill="#ff4560"/>
<rect x="1270.38" y="641.97" width="2.90" height="8.33" fill="#775dd0"/>
<rect x="1273.78" y="648.30" width="1.6" height="1.9" fill="#008ffb" opacity=".8"/>
<rect x="1276.53" y="648.30" width="1.6" height="1.9" fill="#00e396" opacity=".8"/>
<rect x="1279.28" y="648.30" width="1.6" height="1.9" fill="#feb019" opacity=".8"/>
<rect x="1282.03" y="648.30" width="1.6" height="1.9" fill="#ff4560" opacity=".8"/>
<rect x="1293.79" y="542.33" width="2.90" height="107.97" fill="#008ffb"/>
<rect x="1296.54" y="635.75" width="2.90" height="14.55" fill="#00e396"/>
<rect x="1299.94" y="648.30" width="1.6" height="1.9" fill="#feb019" opacity=".8"/>
<rect x="1302.04" y="623.29" width="2.90" height="27.01" fill="#ff4560"/>
<rect x="1304.79" y="635.75" width="2.90" height="14.55" fill="#775dd0"/>
<rect x="1308.19" y="648.30" width="1.6" height="1.9" fill="#008ffb" opacity=".8"/>
<rect x="1310.94" y="648.30" width="1.6" height="1.9" fill="#00e396" opacity=".8"/>
<rect x="1313.69" y="648.30" width="1.6" height="1.9" fill="#feb019" opacity=".8"/>
<rect x="1316.44" y="648.30" width="1.6" height="1.9" fill="#ff4560" opacity=".8"/>
<rect x="1328.20" y="548.56" width="2.90" height="101.74" fill="#008ffb"/>
<rect x="1330.95" y="617.06" width="2.90" height="33.24" fill="#00e396"/>
<rect x="1334.35" y="648.30" width="1.6" height="1.9" fill="#feb019" opacity=".8"/>
<rect x="1336.45" y="598.38" width="2.90" height="51.92" fill="#ff4560"/>
<rect x="1339.20" y="635.75" width="2.90" height="14.55" fill="#775dd0"/>
<rect x="1342.60" y="648.30" width="1.6" height="1.9" fill="#008ffb" opacity=".8"/>
<rect x="1345.35" y="648.30" width="1.6" height="1.9" fill="#00e396" opacity=".8"/>
<rect x="1348.10" y="648.30" width="1.6" height="1.9" fill="#feb019" opacity=".8"/>
<rect x="1350.85" y="648.30" width="1.6" height="1.9" fill="#ff4560" opacity=".8"/>
<rect x="1362.61" y="598.38" width="2.90" height="51.92" fill="#008ffb"/>
<rect x="1365.36" y="523.65" width="2.90" height="126.65" fill="#00e396"/>
<rect x="1368.76" y="648.30" width="1.6" height="1.9" fill="#feb019" opacity=".8"/>
<rect x="1370.86" y="504.97" width="2.90" height="145.33" fill="#ff4560"/>
<rect x="1373.61" y="592.15" width="2.90" height="58.15" fill="#775dd0"/>
<rect x="1377.01" y="648.30" width="1.6" height="1.9" fill="#008ffb" opacity=".8"/>
<rect x="1379.76" y="648.30" width="1.6" height="1.9" fill="#00e396" opacity=".8"/>
<rect x="1382.51" y="648.30" width="1.6" height="1.9" fill="#feb019" opacity=".8"/>
<rect x="1385.26" y="648.30" width="1.6" height="1.9" fill="#ff4560" opacity=".8"/>
<rect x="1397.02" y="592.15" width="2.90" height="58.15" fill="#008ffb"/>
<rect x="1399.77" y="598.38" width="2.90" height="51.92" fill="#00e396"/>
<rect x="1403.17" y="648.30" width="1.6" height="1.9" fill="#feb019" opacity=".8"/>
<rect x="1405.27" y="623.29" width="2.90" height="27.01" fill="#ff4560"/>
<rect x="1408.02" y="629.52" width="2.90" height="20.78" fill="#775dd0"/>
<rect x="1411.42" y="648.30" width="1.6" height="1.9" fill="#008ffb" opacity=".8"/>
<rect x="1414.17" y="648.30" width="1.6" height="1.9" fill="#00e396" opacity=".8"/>
<rect x="1416.92" y="648.30" width="1.6" height="1.9" fill="#feb019" opacity=".8"/>
<rect x="1419.67" y="648.30" width="1.6" height="1.9" fill="#ff4560" opacity=".8"/>
<rect x="1432.07" y="648.30" width="1.6" height="1.9" fill="#008ffb" opacity=".8"/>
<rect x="1434.82" y="648.30" width="1.6" height="1.9" fill="#00e396" opacity=".8"/>
<rect x="1437.57" y="648.30" width="1.6" height="1.9" fill="#feb019" opacity=".8"/>
<rect x="1440.32" y="648.30" width="1.6" height="1.9" fill="#ff4560" opacity=".8"/>
<rect x="1443.07" y="648.30" width="1.6" height="1.9" fill="#775dd0" opacity=".8"/>
<rect x="1445.82" y="648.30" width="1.6" height="1.9" fill="#008ffb" opacity=".8"/>
<rect x="1448.57" y="648.30" width="1.6" height="1.9" fill="#00e396" opacity=".8"/>
<rect x="1451.32" y="648.30" width="1.6" height="1.9" fill="#feb019" opacity=".8"/>
<rect x="1454.07" y="648.30" width="1.6" height="1.9" fill="#ff4560" opacity=".8"/>
<rect x="1466.48" y="648.30" width="1.6" height="1.9" fill="#008ffb" opacity=".8"/>
<rect x="1469.23" y="648.30" width="1.6" height="1.9" fill="#00e396" opacity=".8"/>
<rect x="1471.98" y="648.30" width="1.6" height="1.9" fill="#feb019" opacity=".8"/>
<rect x="1474.73" y="648.30" width="1.6" height="1.9" fill="#ff4560" opacity=".8"/>
<rect x="1477.48" y="648.30" width="1.6" height="1.9" fill="#775dd0" opacity=".8"/>
<rect x="1480.23" y="648.30" width="1.6" height="1.9" fill="#008ffb" opacity=".8"/>
<rect x="1482.98" y="648.30" width="1.6" height="1.9" fill="#00e396" opacity=".8"/>
<rect x="1485.73" y="648.30" width="1.6" height="1.9" fill="#feb019" opacity=".8"/>
<rect x="1488.48" y="648.30" width="1.6" height="1.9" fill="#ff4560" opacity=".8"/>
<rect x="1500.89" y="648.30" width="1.6" height="1.9" fill="#008ffb" opacity=".8"/>
<rect x="1503.64" y="648.30" width="1.6" height="1.9" fill="#00e396" opacity=".8"/>
<rect x="1506.39" y="648.30" width="1.6" height="1.9" fill="#feb019" opacity=".8"/>
<rect x="1509.14" y="648.30" width="1.6" height="1.9" fill="#ff4560" opacity=".8"/>
<rect x="1511.89" y="648.30" width="1.6" height="1.9" fill="#775dd0" opacity=".8"/>
<rect x="1514.64" y="648.30" width="1.6" height="1.9" fill="#008ffb" opacity=".8"/>
<rect x="1517.39" y="648.30" width="1.6" height="1.9" fill="#00e396" opacity=".8"/>
<rect x="1520.14" y="648.30" width="1.6" height="1.9" fill="#feb019" opacity=".8"/>
<rect x="1522.89" y="648.30" width="1.6" height="1.9" fill="#ff4560" opacity=".8"/>
<rect x="1535.30" y="648.30" width="1.6" height="1.9" fill="#008ffb" opacity=".8"/>
<rect x="1538.05" y="648.30" width="1.6" height="1.9" fill="#00e396" opacity=".8"/>
<rect x="1540.80" y="648.30" width="1.6" height="1.9" fill="#feb019" opacity=".8"/>
<rect x="1543.55" y="648.30" width="1.6" height="1.9" fill="#ff4560" opacity=".8"/>
<rect x="1546.30" y="648.30" width="1.6" height="1.9" fill="#775dd0" opacity=".8"/>
<rect x="1549.05" y="648.30" width="1.6" height="1.9" fill="#008ffb" opacity=".8"/>
<rect x="1551.80" y="648.30" width="1.6" height="1.9" fill="#00e396" opacity=".8"/>
<rect x="1554.55" y="648.30" width="1.6" height="1.9" fill="#feb019" opacity=".8"/>
<rect x="1557.30" y="648.30" width="1.6" height="1.9" fill="#ff4560" opacity=".8"/>
<rect x="1569.71" y="648.30" width="1.6" height="1.9" fill="#008ffb" opacity=".8"/>
<rect x="1572.46" y="648.30" width="1.6" height="1.9" fill="#00e396" opacity=".8"/>
<rect x="1575.21" y="648.30" width="1.6" height="1.9" fill="#feb019" opacity=".8"/>
<rect x="1577.96" y="648.30" width="1.6" height="1.9" fill="#ff4560" opacity=".8"/>
<rect x="1580.71" y="648.30" width="1.6" height="1.9" fill="#775dd0" opacity=".8"/>
<rect x="1583.46" y="648.30" width="1.6" height="1.9" fill="#008ffb" opacity=".8"/>
<rect x="1586.21" y="648.30" width="1.6" height="1.9" fill="#00e396" opacity=".8"/>
<rect x="1588.96" y="648.30" width="1.6" height="1.9" fill="#feb019" opacity=".8"/>
<rect x="1591.71" y="648.30" width="1.6" height="1.9" fill="#ff4560" opacity=".8"/>
<rect x="1604.12" y="648.30" width="1.6" height="1.9" fill="#008ffb" opacity=".8"/>
<rect x="1606.87" y="648.30" width="1.6" height="1.9" fill="#00e396" opacity=".8"/>
<rect x="1609.62" y="648.30" width="1.6" height="1.9" fill="#feb019" opacity=".8"/>
<rect x="1612.37" y="648.30" width="1.6" height="1.9" fill="#ff4560" opacity=".8"/>
<rect x="1615.12" y="648.30" width="1.6" height="1.9" fill="#775dd0" opacity=".8"/>
<rect x="1617.87" y="648.30" width="1.6" height="1.9" fill="#008ffb" opacity=".8"/>
<rect x="1620.62" y="648.30" width="1.6" height="1.9" fill="#00e396" opacity=".8"/>
<rect x="1623.37" y="648.30" width="1.6" height="1.9" fill="#feb019" opacity=".8"/>
<rect x="1626.12" y="648.30" width="1.6" height="1.9" fill="#ff4560" opacity=".8"/>
<rect x="1638.52" y="648.30" width="1.6" height="1.9" fill="#008ffb" opacity=".8"/>
<rect x="1641.27" y="648.30" width="1.6" height="1.9" fill="#00e396" opacity=".8"/>
<rect x="1644.02" y="648.30" width="1.6" height="1.9" fill="#feb019" opacity=".8"/>
<rect x="1646.77" y="648.30" width="1.6" height="1.9" fill="#ff4560" opacity=".8"/>
<rect x="1649.52" y="648.30" width="1.6" height="1.9" fill="#775dd0" opacity=".8"/>
<rect x="1652.27" y="648.30" width="1.6" height="1.9" fill="#008ffb" opacity=".8"/>
<rect x="1655.02" y="648.30" width="1.6" height="1.9" fill="#00e396" opacity=".8"/>
<rect x="1657.77" y="648.30" width="1.6" height="1.9" fill="#feb019" opacity=".8"/>
<rect x="1660.52" y="648.30" width="1.6" height="1.9" fill="#ff4560" opacity=".8"/>
<rect x="1672.93" y="648.30" width="1.6" height="1.9" fill="#008ffb" opacity=".8"/>
<rect x="1675.68" y="648.30" width="1.6" height="1.9" fill="#00e396" opacity=".8"/>
<rect x="1678.43" y="648.30" width="1.6" height="1.9" fill="#feb019" opacity=".8"/>
<rect x="1681.18" y="648.30" width="1.6" height="1.9" fill="#ff4560" opacity=".8"/>
<rect x="1683.93" y="648.30" width="1.6" height="1.9" fill="#775dd0" opacity=".8"/>
<rect x="1686.68" y="648.30" width="1.6" height="1.9" fill="#008ffb" opacity=".8"/>
<rect x="1689.43" y="648.30" width="1.6" height="1.9" fill="#00e396" opacity=".8"/>
<rect x="1692.18" y="648.30" width="1.6" height="1.9" fill="#feb019" opacity=".8"/>
<rect x="1694.93" y="648.30" width="1.6" height="1.9" fill="#ff4560" opacity=".8"/>
<rect x="853.1" y="315.2" width="8.8" height="8.6" rx="2" fill="#008ffb"/>
<text transform="translate(865.3,323.6) scale(.956,1)" font-size="9.5" fill="#555">LPR - INGRESO CAMIONES - 01</text>
<rect x="1013.0" y="315.2" width="8.8" height="8.6" rx="2" fill="#00e396"/>
<text transform="translate(1025.2,323.6) scale(.956,1)" font-size="9.5" fill="#555">LPR - INGRESO CAMIONES - 02</text>
<rect x="1173.4" y="315.2" width="8.8" height="8.6" rx="2" fill="#feb019"/>
<text transform="translate(1185.6,323.6) scale(.956,1)" font-size="9.5" fill="#555">LPR - INGRESO CAMIONES - BASCULA</text>
<rect x="1366.2" y="315.2" width="8.8" height="8.6" rx="2" fill="#ff4560"/>
<text transform="translate(1378.4,323.6) scale(.956,1)" font-size="9.5" fill="#555">LPR - INGRESO VEHICULOS - 01</text>
<rect x="1531.0" y="315.2" width="8.8" height="8.6" rx="2" fill="#775dd0"/>
<text transform="translate(1543.2,323.6) scale(.956,1)" font-size="9.5" fill="#555">LPR - INGRESO VEHICULOS - 02</text>
<rect x="853.1" y="338.5" width="8.8" height="8.6" rx="2" fill="#008ffb"/>
<text transform="translate(865.3,346.9) scale(.956,1)" font-size="9.5" fill="#555">LPR - SALIDA CAMIONES - 01</text>
<rect x="1003.0" y="338.5" width="8.8" height="8.6" rx="2" fill="#00e396"/>
<text transform="translate(1015.2,346.9) scale(.956,1)" font-size="9.5" fill="#555">LPR - SALIDA CAMIONES - BASCULA</text>
<rect x="1185.5" y="338.5" width="8.8" height="8.6" rx="2" fill="#feb019"/>
<text transform="translate(1197.7,346.9) scale(.956,1)" font-size="9.5" fill="#555">LPR - SALIDA VEHICULOS - 01</text>
<rect x="1340.3" y="338.5" width="8.8" height="8.6" rx="2" fill="#ff4560"/>
<text transform="translate(1352.5,346.9) scale(.956,1)" font-size="9.5" fill="#555">LPR - SALIDA VEHICULOS - 02</text>
</svg>
<!--/CHART-->

  <div style="left:156px;top:748px;width:774px;height:30px;border-radius:6px;box-shadow:0 -5px 12px rgba(0,0,0,.16)"></div>
  <div style="left:956px;top:748px;width:772px;height:30px;border-radius:6px;box-shadow:0 -5px 12px rgba(0,0,0,.16)"></div>
  <div class="sbtrack"></div><div class="sbthumb"></div>
  <div class="mfoot"></div>
  <div class="cerrar"></div><span class="cerrartxt">Cerrar</span>
</div>
</div>

</body>
</html>
